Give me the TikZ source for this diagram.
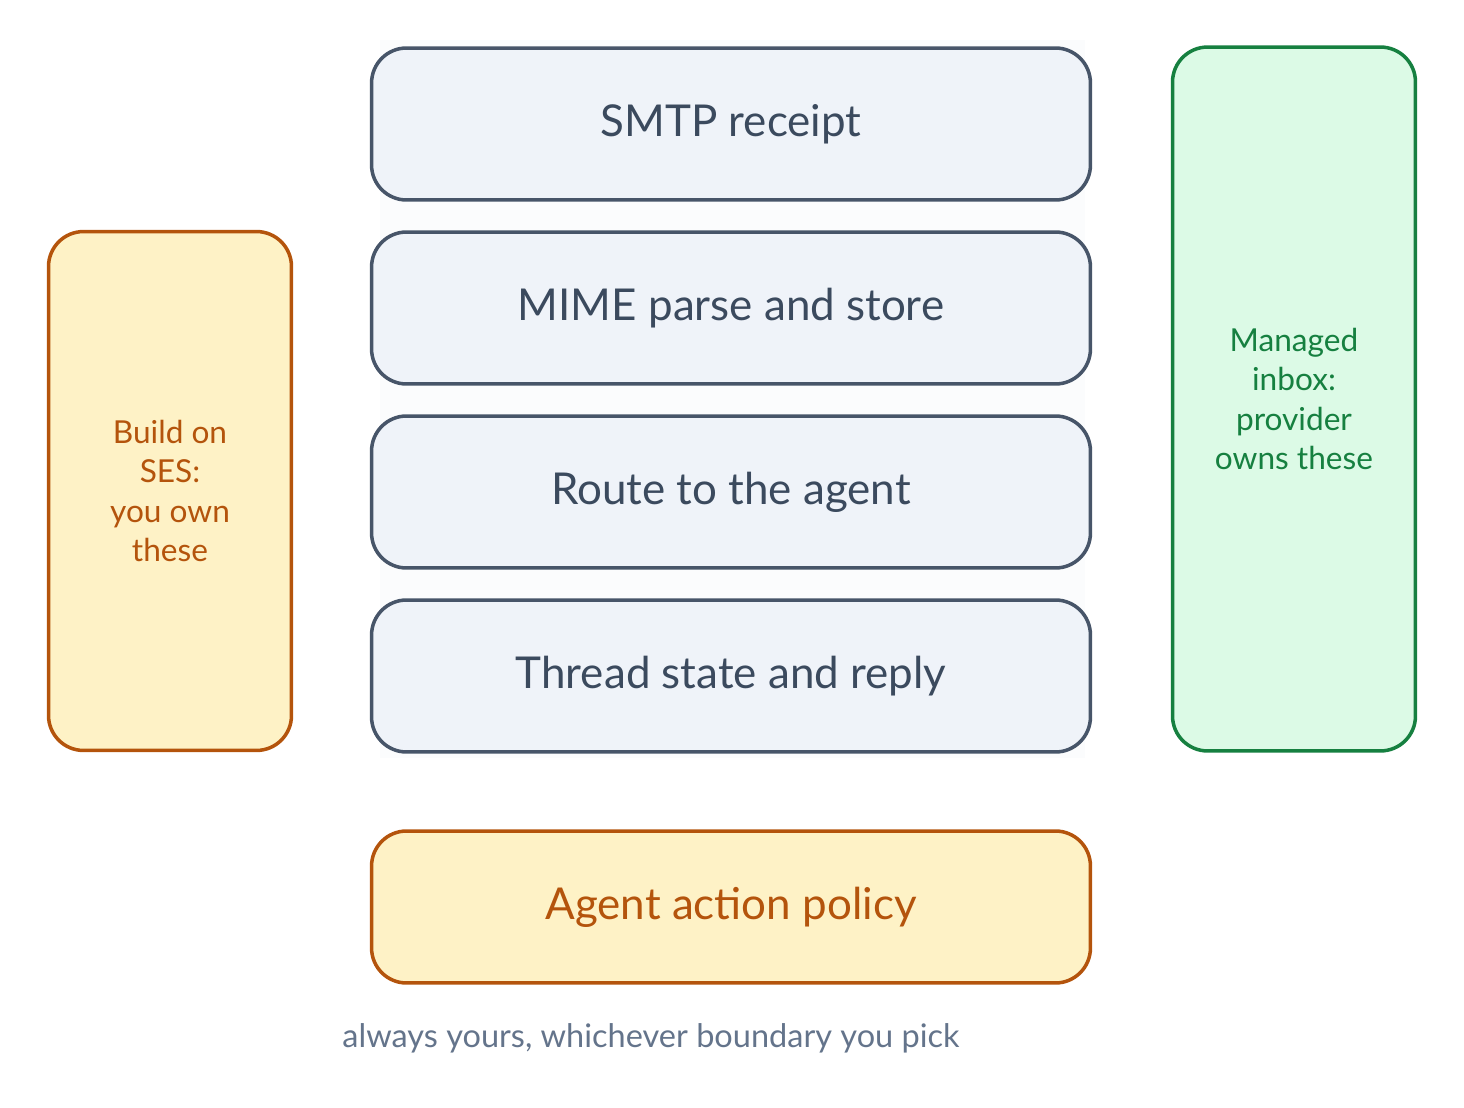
\documentclass[tikz,border=0pt]{standalone}
\usepackage{fontspec}
\setmainfont{Lato}
\usepackage{tikz}
\usetikzlibrary{positioning}

\definecolor{slateline}{HTML}{475569}
\definecolor{slatefill}{HTML}{EFF3F9}
\definecolor{slatetext}{HTML}{3B4A5E}
\definecolor{amberline}{HTML}{B4540C}
\definecolor{amberfill}{HTML}{FEF2C6}
\definecolor{greenline}{HTML}{168040}
\definecolor{greenfill}{HTML}{DCFAE6}
\definecolor{captiongray}{HTML}{64748B}

\begin{document}
\begin{tikzpicture}[x=0.02cm, y=-0.02cm]
			\tikzstyle{layerbox}=[draw=slateline, line width=2pt, rounded corners=0.7cm, minimum width=14.38cm, minimum height=3.04cm, fill=slatefill, text=slatetext, font=\fontsize{25}{30}\selectfont]
			\tikzstyle{policybox}=[layerbox, draw=amberline, fill=amberfill, text=amberline]
			\tikzstyle{sidebox}=[draw, line width=2pt, rounded corners=0.7cm, minimum width=4.86cm, align=center, font=\fontsize{18}{22.5}\selectfont]
			
			\useasboundingbox (0,0) rectangle (1464,1108);
			
			% faint band behind the stack
			\fill [slatefill!25] (380,40) rectangle (1085,758);
			
			\node (smtp)   at (731,124) [layerbox] {SMTP receipt};
			\node (mime)   at (731,308) [layerbox] {MIME parse and store};
			\node (route)  at (731,492) [layerbox] {Route to the agent};
			\node (thread) at (731,676) [layerbox] {Thread state and reply};
			
			\node (policy) at (731,907) [policybox] {Agent action policy};
			
			\node (ses) at (170,491) [sidebox, draw=amberline, fill=amberfill, text=amberline, minimum height=10.38cm] {Build on\\SES:\\you own\\these};
			\node (managed) at (1294,399) [sidebox, draw=greenline, fill=greenfill, text=greenline, minimum height=14.08cm] {Managed\\inbox:\\provider\\owns these};
			
			\node (note) at (651,1038) [text=captiongray, font=\fontsize{18.5}{22}\selectfont] {always yours, whichever boundary you pick};
			
\end{tikzpicture}
\end{document}
